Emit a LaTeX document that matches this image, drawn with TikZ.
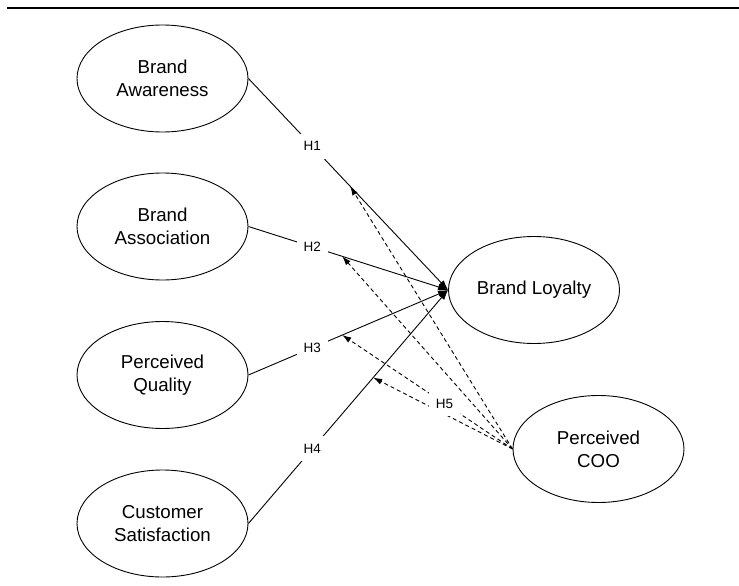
\documentclass[tikz,border=0pt]{standalone}
\usepackage{fontspec}
\setmainfont{Liberation Sans}
\usetikzlibrary{shapes.geometric,arrows.meta}

\begin{document}
\begin{tikzpicture}[x=1pt, y=-1pt, line width=0.9pt,
  construct/.style={draw, ellipse, minimum width=171pt, minimum height=107pt,
    inner sep=0pt, align=center, font=\fontsize{18.7}{23}\selectfont},
  hyp/.style={fill=white, inner xsep=7pt, inner ysep=8pt, font=\fontsize{13.5}{16}\selectfont},
  effect/.style={-{Latex[length=10pt,width=7pt]}},
  moderation/.style={-{Latex[length=9pt,width=6pt]}, dash pattern=on 4pt off 3pt}]

\useasboundingbox (0,0) rectangle (739,586);
\draw[line width=1.2pt] (7,8) -- (739,8);

\node[construct] (aw)  at (162.5,78.5) {Brand\\Awareness};
\node[construct] (as)  at (162.5,226.5) {Brand\\Association};
\node[construct] (pq)  at (162.5,375) {Perceived\\Quality};
\node[construct] (cs)  at (162.5,523.5) {Customer\\Satisfaction};
\node[construct] (bl)  at (534,290) {Brand Loyalty};
\node[construct] (coo) at (598.5,449) {Perceived\\COO};

% direct effects
\foreach \a/\h in {aw/H1, as/H2, pq/H3, cs/H4}
   {
	\draw[effect] (\a.east) -- node[hyp, pos=0.32]{\h} (bl.west);
   };

% moderating effects
\path (aw.east) -- coordinate[pos=0.51] (t1) (bl.west);
\path (as.east) -- coordinate[pos=0.47] (t2) (bl.west);
\path (pq.east) -- coordinate[pos=0.47] (t3) (bl.west);
\path (cs.east) -- coordinate[pos=0.625] (t4) (bl.west);
\foreach \t in {1,...,4}
   {
	\draw[moderation] (coo.west) -- (t\t);
   };
\path (coo.west) -- node[hyp, pos=0.4]{H5} (t3);
\end{tikzpicture}
\end{document}
